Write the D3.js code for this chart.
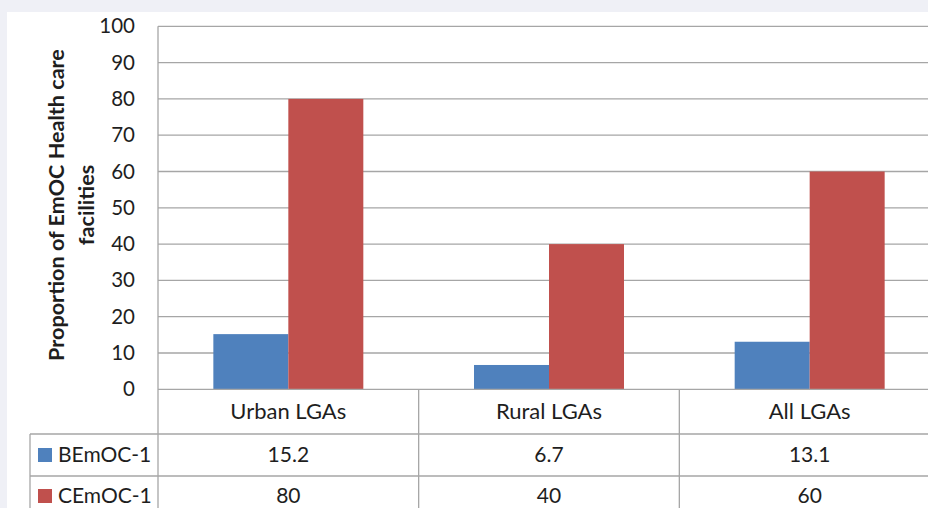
<!DOCTYPE html>
<html><head><meta charset="utf-8">
<script src="https://cdn.jsdelivr.net/npm/d3@7"></script>
<style>
html,body{margin:0;padding:0;background:#eff0f6;overflow:hidden;}
svg{display:block;}
text{font-family:Lato, "Open Sans", sans-serif;fill:#1e1e1e;}
</style></head>
<body>
<svg id="c" width="928" height="508"></svg>
<script>
const categories = ["Urban LGAs", "Rural LGAs", "All LGAs"];
const seriesNames = ["BEmOC-1", "CEmOC-1"];
const bemocValues = [15.2, 6.7, 13.1];
const cemocValues = [80, 40, 60];
const seriesValues = [bemocValues, cemocValues];
const seriesColors = ["#4f81bd", "#c0504d"];
const tableLabels = [["15.2", "6.7", "13.1"], ["80", "40", "60"]];
const yTicks = [0, 10, 20, 30, 40, 50, 60, 70, 80, 90, 100];
const yTitleLines = ["Proportion of EmOC Health care", "facilities"];

const svg = d3.select("#c");
svg.append("rect").attr("x", 7).attr("y", 12).attr("width", 928).attr("height", 508).attr("fill", "#fff");

const plotL = 158, plotR = 940, plotT = 26.3, plotB = 389.3;
const x0 = d3.scaleBand().domain(categories).range([plotL, plotR]).padding(0);
const x1 = d3.scaleBand().domain(seriesNames).range([0, x0.bandwidth()]).paddingInner(0).paddingOuter(0.738);
const y = d3.scaleLinear().domain([0, 100]).range([plotB, plotT]);

const grid = "#a6a6a6";
svg.append("g").selectAll("line").data(yTicks.filter(d => d > 0)).join("line")
  .attr("x1", plotL).attr("x2", plotR).attr("y1", d => y(d)).attr("y2", d => y(d))
  .attr("stroke", grid).attr("stroke-width", 1.3);

const groups = svg.append("g").selectAll("g").data(categories).join("g")
  .attr("transform", d => `translate(${x0(d)},0)`);
groups.selectAll("rect").data((c, i) => seriesNames.map((s, j) => ({s, v: seriesValues[j][i], j})))
  .join("rect")
  .attr("x", d => x1(d.s)).attr("width", x1.bandwidth())
  .attr("y", d => y(d.v)).attr("height", d => y(0) - y(d.v))
  .attr("fill", d => seriesColors[d.j]);

const yAxis = d3.axisLeft(y).tickValues(yTicks).tickSize(0).tickPadding(23);
const ya = svg.append("g").attr("transform", `translate(${plotL},0)`).call(yAxis);
ya.select(".domain").remove();
ya.selectAll("text").style("font-family", "Lato, sans-serif").style("font-size", "20.5px").attr("fill", "#1e1e1e");

const tg = svg.append("g");
tg.selectAll("text").data(yTitleLines).join("text")
  .attr("transform", (d, i) => `translate(${[64, 94][i]},${205}) rotate(-90)`)
  .attr("text-anchor", "middle").style("font-size", "21.6px").style("font-weight", "bold")
  .text(d => d);

const rowH = [plotB, 434, 476, 520];
const tl = svg.append("g").attr("stroke", grid).attr("stroke-width", 1.3);
tl.append("line").attr("x1", plotL).attr("x2", plotL).attr("y1", plotT).attr("y2", 520);
tl.append("line").attr("x1", plotL).attr("x2", plotR).attr("y1", plotB).attr("y2", plotB);
[434, 476].forEach(yy => tl.append("line").attr("x1", 30).attr("x2", plotR).attr("y1", yy).attr("y2", yy));
tl.append("line").attr("x1", 30).attr("x2", 30).attr("y1", 434).attr("y2", 520);
categories.slice(1).forEach(c => tl.append("line").attr("x1", x0(c)).attr("x2", x0(c)).attr("y1", plotB).attr("y2", 520));

svg.append("g").selectAll("text").data(categories).join("text")
  .attr("x", d => x0(d) + x0.bandwidth() / 2).attr("y", (rowH[0] + rowH[1]) / 2).attr("dy", "0.35em")
  .attr("text-anchor", "middle").style("font-size", "22px").text(d => d);

tableLabels.forEach((row, j) => {
  const cy = j === 0 ? 455 : 496;
  svg.append("g").selectAll("text").data(row).join("text")
    .attr("x", (d, i) => x0(categories[i]) + x0.bandwidth() / 2).attr("y", cy).attr("dy", "0.35em")
    .attr("text-anchor", "middle").style("font-size", "21px").text(d => d);
  svg.append("rect").attr("x", 38).attr("y", cy - 7).attr("width", 14).attr("height", 14).attr("fill", seriesColors[j]);
  svg.append("text").attr("x", 58).attr("y", cy).attr("dy", "0.35em").style("font-size", "21px").text(seriesNames[j]);
});
</script>
</body></html>
